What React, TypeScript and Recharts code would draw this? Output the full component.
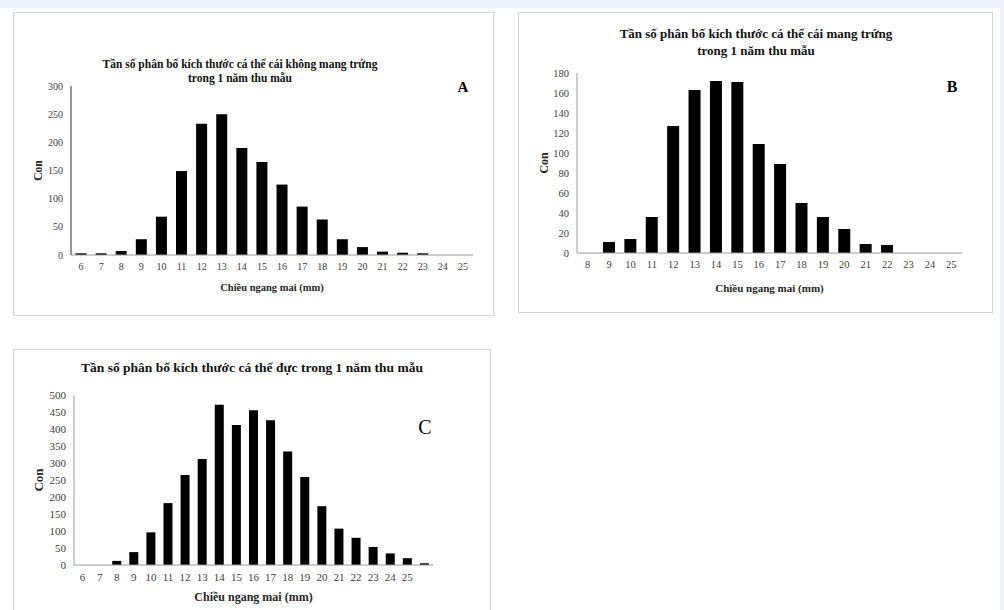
import { Bar, BarChart, Label, XAxis, YAxis } from "recharts";

const sizesA = ["6", "7", "8", "9", "10", "11", "12", "13", "14", "15", "16", "17", "18", "19", "20", "21", "22", "23", "24", "25"];
const countsA = [3, 3, 7, 28, 68, 149, 233, 250, 190, 165, 125, 86, 63, 28, 14, 6, 4, 3, 0, 0];
const ticksA = [0, 50, 100, 150, 200, 250, 300];

const sizesB = ["8", "9", "10", "11", "12", "13", "14", "15", "16", "17", "18", "19", "20", "21", "22", "23", "24", "25"];
const countsB = [0, 11, 14, 36, 127, 163, 172, 171, 109, 89, 50, 36, 24, 9, 8, 0, 0, 0];
const ticksB = [0, 20, 40, 60, 80, 100, 120, 140, 160, 180];

const sizesC = ["6", "7", "8", "9", "10", "11", "12", "13", "14", "15", "16", "17", "18", "19", "20", "21", "22", "23", "24", "25", " "];
const countsC = [0, 0, 12, 38, 96, 182, 265, 312, 471, 412, 455, 426, 334, 259, 173, 107, 80, 53, 34, 20, 5];
const ticksC = [0, 50, 100, 150, 200, 250, 300, 350, 400, 450, 500];

const SERIF = '"Liberation Serif", "Times New Roman", serif';

type PanelProps = {
  box: { left: number; top: number; width: number; height: number };
  sizes: string[];
  counts: number[];
  ticks: number[];
  margin: { top: number; right: number; bottom: number; left: number };
  yWidth: number;
  xHeight: number;
  gap: string;
  tickFont: number;
  axisFont: number;
  conOffset: number;
  yAxisColor: string;
};

function Panel(p: PanelProps) {
  const data = p.sizes.map((size, i) => ({ size, count: p.counts[i] }));
  const tick = { fontSize: p.tickFont, fill: "#404040", fontFamily: SERIF };
  return (
    <div style={{ position: "absolute", left: p.box.left, top: p.box.top, width: p.box.width, height: p.box.height }}>
      <BarChart width={p.box.width} height={p.box.height} data={data} margin={p.margin} barCategoryGap={p.gap}>
        <XAxis
          dataKey="size"
          interval={0}
          tickLine={false}
          tick={tick}
          stroke="#9a9a9a"
          height={p.xHeight}
        >
          <Label
            value="Chiều ngang mai (mm)"
            position="insideBottom"
            offset={0}
            fill="#262626"
            fontSize={p.axisFont}
            fontWeight="bold"
            fontFamily={SERIF}
          />
        </XAxis>
        <YAxis
          domain={[0, p.ticks[p.ticks.length - 1]]}
          ticks={p.ticks}
          interval={0}
          tickLine={false}
          tick={tick}
          stroke={p.yAxisColor}
          width={p.yWidth}
        >
          <Label
            value="Con"
            angle={-90}
            position="insideLeft"
            offset={p.conOffset}
            fill="#262626"
            fontSize={p.axisFont + 1}
            fontWeight="bold"
            fontFamily={SERIF}
            style={{ textAnchor: "middle" }}
          />
        </YAxis>
        <Bar dataKey="count" fill="#000000" isAnimationActive={false} />
      </BarChart>
      <div
        style={{
          position: "absolute",
          inset: 0,
          border: "1px solid #d4d4d4",
          pointerEvents: "none",
        }}
      />
    </div>
  );
}

function Title({ cx, top, size, lineHeight, lines }: { cx: number; top: number; size: number; lineHeight: number; lines: string[] }) {
  return (
    <div
      style={{
        position: "absolute",
        left: cx - 250,
        top,
        width: 500,
        textAlign: "center",
        fontFamily: SERIF,
        fontWeight: "bold",
        fontSize: size,
        lineHeight: `${lineHeight}px`,
        color: "#111",
      }}
    >
      {lines.map((line) => (
        <div key={line}>{line}</div>
      ))}
    </div>
  );
}

function Letter({ x, y, text, size, bold }: { x: number; y: number; text: string; size: number; bold: boolean }) {
  return (
    <div
      style={{
        position: "absolute",
        left: x - 20,
        top: y - size / 2,
        width: 40,
        textAlign: "center",
        lineHeight: `${size}px`,
        fontFamily: SERIF,
        fontSize: size,
        fontWeight: bold ? "bold" : "normal",
        color: "#000",
      }}
    >
      {text}
    </div>
  );
}

export default function App() {
  return (
    <div
      style={{
        position: "absolute",
        left: 0,
        top: 0,
        width: 1004,
        height: 610,
        overflow: "hidden",
        background: "#edf1fa",
      }}
    >
      <div style={{ position: "absolute", left: 0, top: 8, width: 1000, height: 602, background: "#ffffff" }} />

      <Panel
        box={{ left: 13, top: 12, width: 481, height: 304 }}
        sizes={sizesA}
        counts={countsA}
        ticks={ticksA}
        margin={{ top: 74, right: 21, bottom: 25, left: 0 }}
        yWidth={58}
        xHeight={36}
        gap="22.5%"
        tickFont={10}
        axisFont={10.5}
        conOffset={25}
        yAxisColor="#333333"
      />
      <Title cx={240} top={57} size={11.5} lineHeight={14} lines={["Tần số phân bố kích thước cá thể cái không mang trứng", "trong 1 năm thu mẫu"]} />
      <Letter x={463} y={87} text="A" size={15} bold />

      <Panel
        box={{ left: 518, top: 12, width: 475, height: 301 }}
        sizes={sizesB}
        counts={countsB}
        ticks={ticksB}
        margin={{ top: 61, right: 31, bottom: 21, left: 0 }}
        yWidth={59}
        xHeight={39}
        gap="21.5%"
        tickFont={10.5}
        axisFont={11}
        conOffset={26}
        yAxisColor="#9a9a9a"
      />
      <Title cx={756} top={25} size={13} lineHeight={17} lines={["Tần số phân bố kích thước cá thể cái mang trứng", "trong 1 năm thu mẫu"]} />
      <Letter x={952} y={87} text="B" size={16} bold />

      <Panel
        box={{ left: 13, top: 349, width: 478, height: 262 }}
        sizes={sizesC}
        counts={countsC}
        ticks={ticksC}
        margin={{ top: 46, right: 58, bottom: 10, left: 0 }}
        yWidth={61}
        xHeight={36}
        gap="23.5%"
        tickFont={11}
        axisFont={12}
        conOffset={25}
        yAxisColor="#9a9a9a"
      />
      <Title cx={252} top={359} size={13.5} lineHeight={17} lines={["Tần số phân bố kích thước cá thể đực trong 1 năm thu mẫu"]} />
      <Letter x={425} y={427} text="C" size={20} bold={false} />
    </div>
  );
}
